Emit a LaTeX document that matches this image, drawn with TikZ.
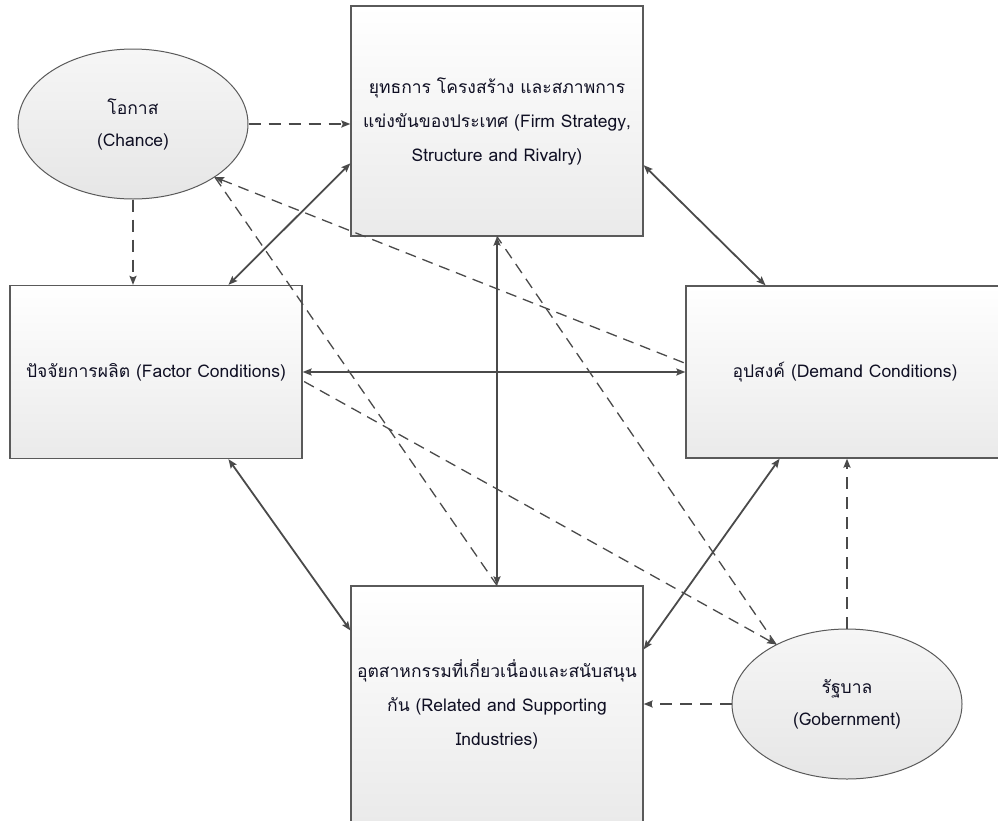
\documentclass[tikz,border=0pt]{standalone}
\usepackage{fontspec}
\newfontfamily\thaifont[Script=Thai]{Loma}
\usetikzlibrary{shapes.geometric,arrows.meta,calc}
\definecolor{linec}{HTML}{4A4A4A}
\definecolor{edgec}{HTML}{5A5A5A}
\definecolor{boxbot}{HTML}{EAEAEA}
\definecolor{ovaltop}{HTML}{F6F6F6}
\definecolor{ovalbot}{HTML}{E6E6E6}
\definecolor{txt}{HTML}{101024}
\begin{document}
\begin{tikzpicture}[x=1pt,y=-1pt,
  box/.style={draw=edgec, line width=1.3pt, top color=white, bottom color=boxbot,
    minimum width=292pt, inner sep=0pt, align=center,
    font=\thaifont\fontsize{17.5}{34}\selectfont, text=txt},
  oval/.style={ellipse, draw=edgec, line width=1pt, top color=ovaltop, bottom color=ovalbot,
    minimum width=230pt, minimum height=150pt, inner sep=0pt, align=center,
    font=\thaifont\fontsize{17.5}{32}\selectfont, text=txt},
  link/.style={draw=linec, line width=1.8pt, {Stealth[length=9pt,width=7pt,inset=1.5pt]}-{Stealth[length=9pt,width=7pt,inset=1.5pt]}},
  bolddash/.style={draw=linec, line width=2pt, dash pattern=on 12pt off 8pt, -{Stealth[length=9pt,width=7pt,inset=1.5pt]}},
  thindash/.style={draw=linec, line width=1.3pt, dash pattern=on 11pt off 7pt}
]
\useasboundingbox (0,0) rectangle (998,820);

\node[box, minimum height=230pt] (firm) at (497,121)
  {ยุทธการ โครงสร้าง และสภาพการ\\แข่งขันของประเทศ (Firm Strategy,\\Structure and Rivalry)};
\node[box, minimum height=173pt] (factor) at (156,372)
  {ปัจจัยการผลิต (Factor Conditions)};
\node[box, minimum width=326pt, minimum height=172pt] (demand) at (849,372)
  {\hspace*{-8pt}อุปสงค์ (Demand Conditions)};
\node[box, minimum height=236pt] (related) at (497,704)
  {อุตสาหกรรมที่เกี่ยวเนื่องและสนับสนุน\\กัน (Related and Supporting\\Industries)};
\node[oval] (chance) at (133,124) {โอกาส\\(Chance)};
\node[oval] (gov) at (847,704) {รัฐบาล\\(Gobernment)};

% thin dashed diagonals
\draw[thindash, {Stealth[length=9pt,width=7pt,inset=1.5pt]}-] (chance.-33) -- ($(demand.north west)!0.45!(demand.south west)$);
\draw[thindash] (chance.-33) -- (related.north);
\draw[thindash, {Stealth[length=9pt,width=7pt,inset=1.5pt]}-] (gov.140) -- ($(factor.north east)!0.55!(factor.south east)$);
\draw[thindash] (gov.140) -- (firm.south);

% solid double arrows
\draw[link] ($(firm.south west)!0.317!(firm.north west)$) -- ($(factor.north west)!0.747!(factor.north east)$);
\draw[link] ($(firm.south east)!0.309!(firm.north east)$) -- ($(demand.north west)!0.245!(demand.north east)$);
\draw[link] (factor.east) -- (factor.east -| demand.west);
\draw[link] (firm.south) -- (related.north);
\draw[link] ($(factor.south west)!0.747!(factor.south east)$) -- ($(related.north west)!0.19!(related.south west)$);
\draw[link] ($(demand.south west)!0.288!(demand.south east)$) -- ($(related.north east)!0.27!(related.south east)$);

% bold dashed arrows
\draw[bolddash] (chance.east) -- (chance.east -| firm.west);
\draw[bolddash] (chance.south) -- (chance.south |- factor.north);
\draw[bolddash] (gov.north) -- (gov.north |- demand.south);
\draw[bolddash] (gov.west) -- (gov.west -| related.east);
\end{tikzpicture}
\end{document}
